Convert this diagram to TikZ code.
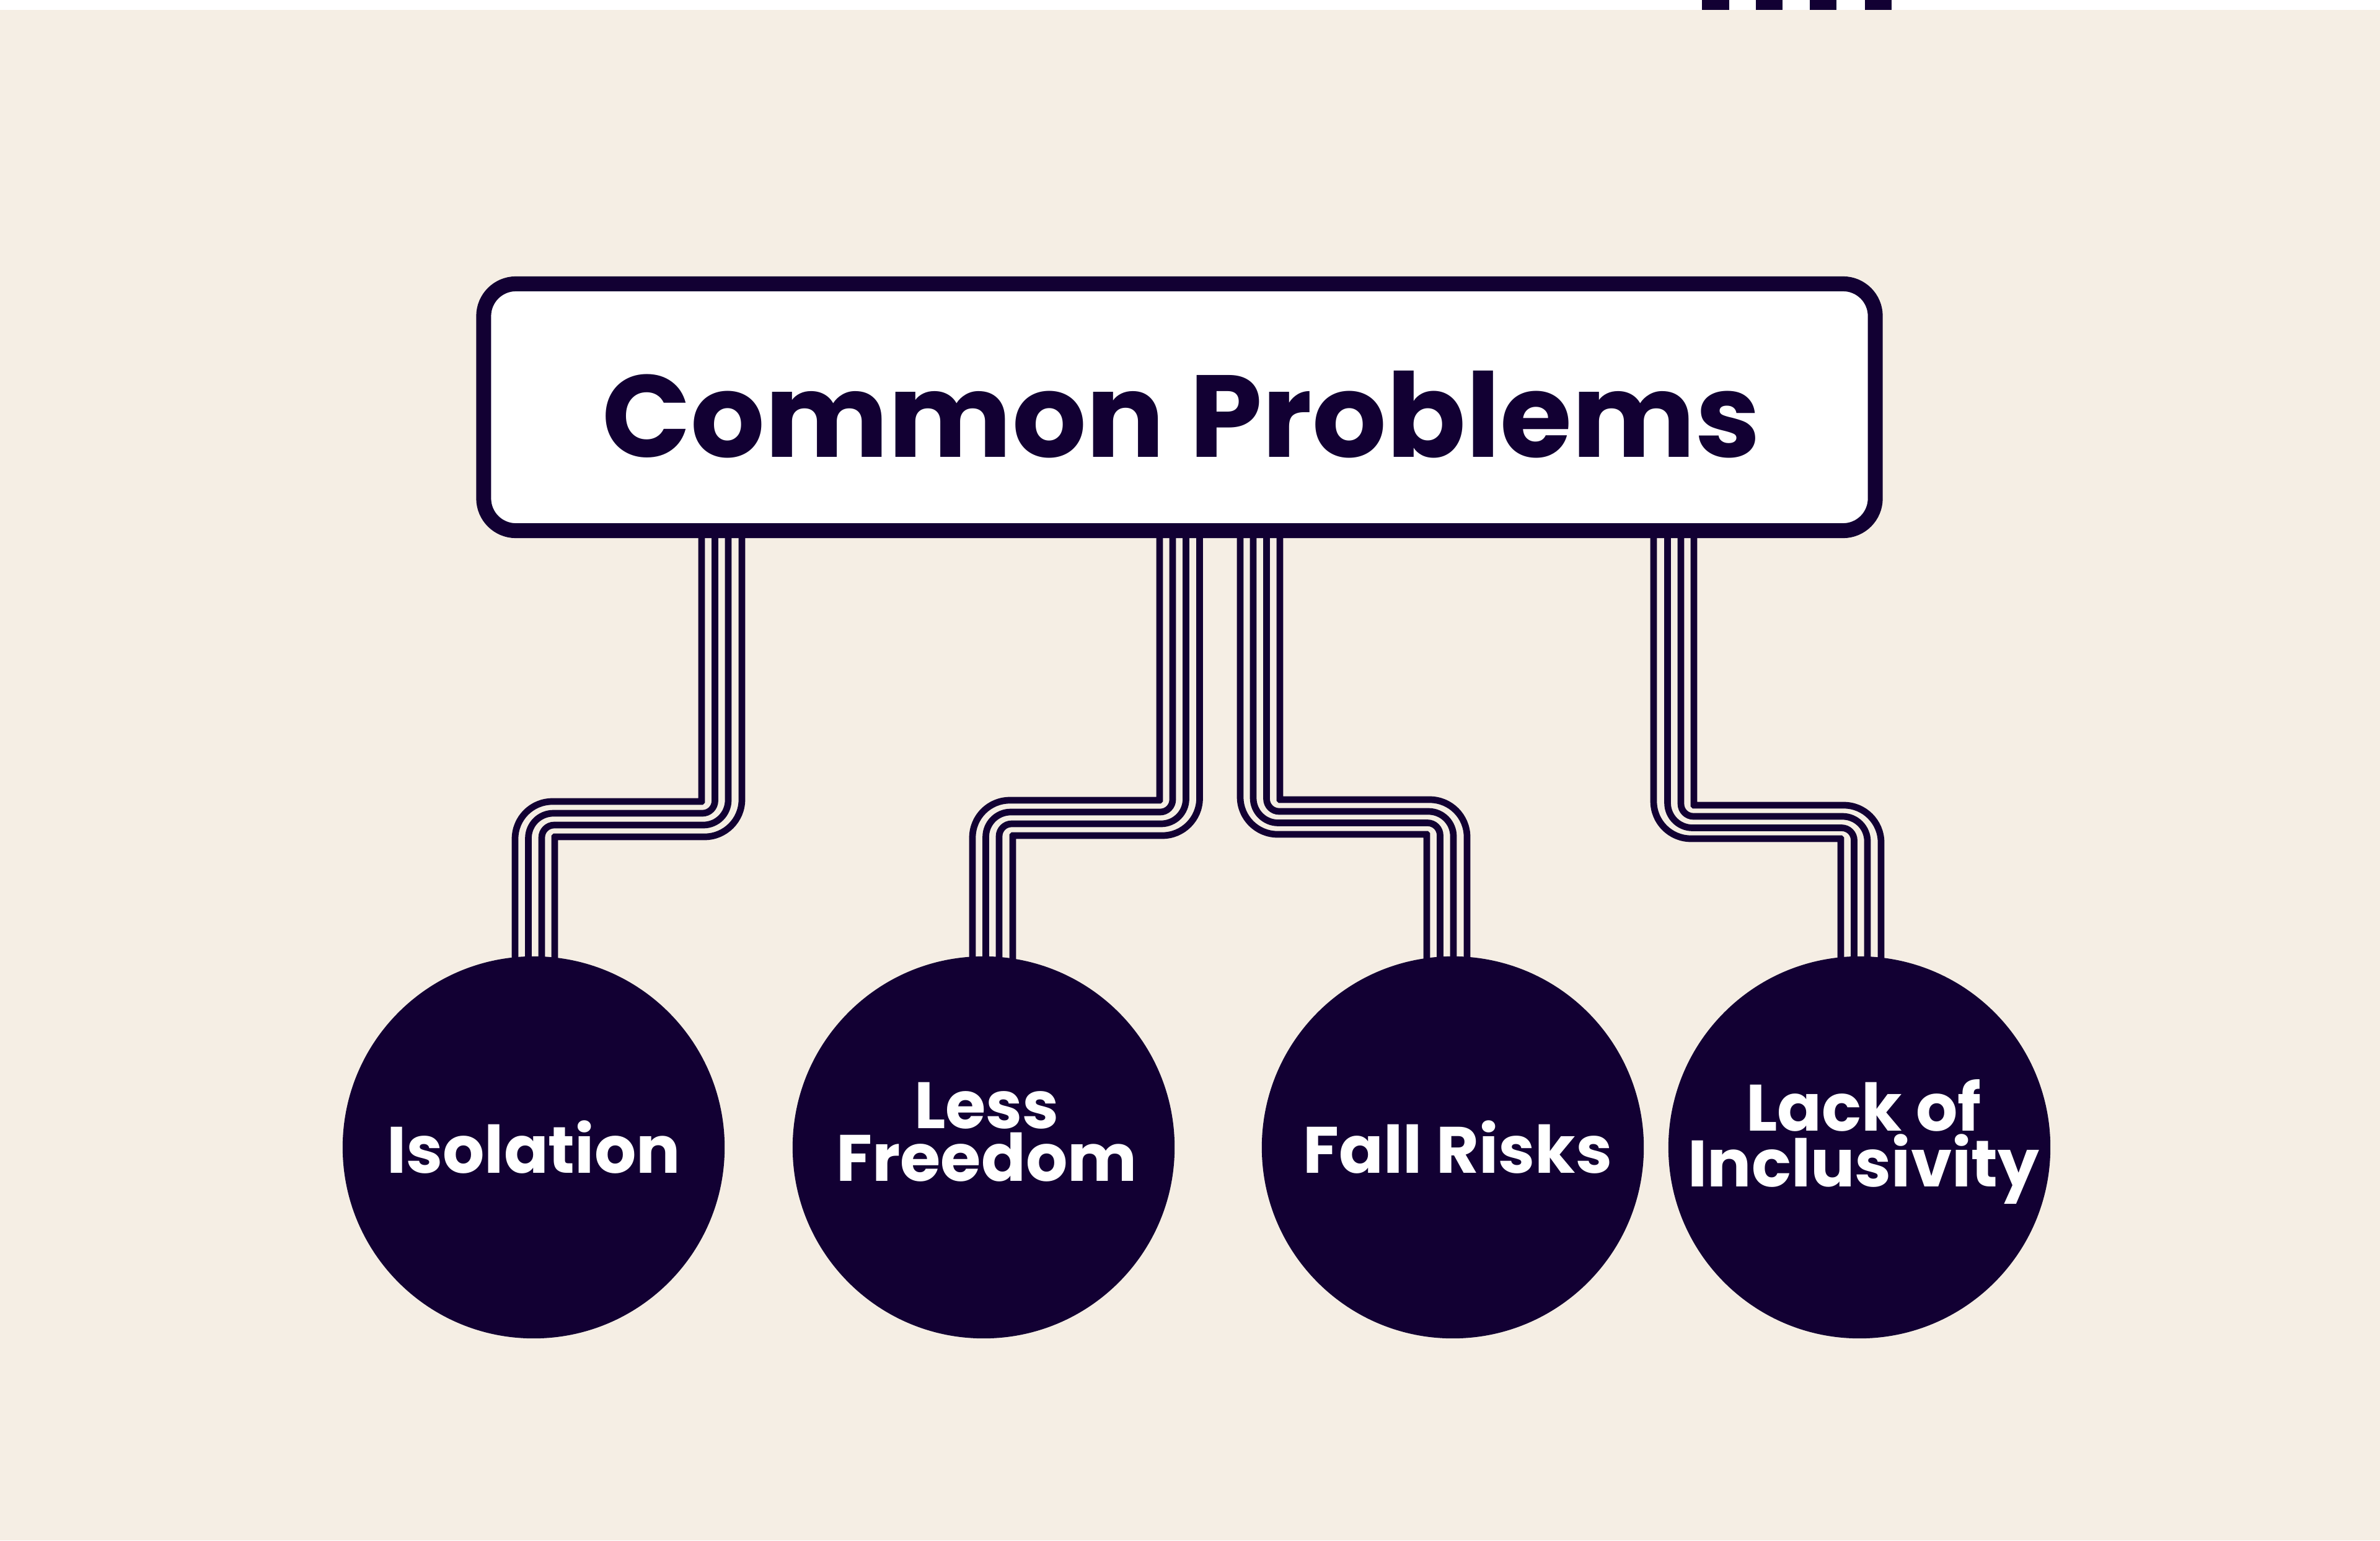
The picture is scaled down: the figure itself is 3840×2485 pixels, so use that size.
\documentclass[tikz,border=0pt]{standalone}
\usepackage{fontspec}
\setmainfont{Poppins}
\usetikzlibrary{calc}
\definecolor{navy}{HTML}{120033}
\definecolor{beige}{HTML}{F5EEE4}
\pgfdeclarelayer{back}
\pgfdeclarelayer{wires}
\pgfsetlayers{back,wires,main}
\tikzset{
  wire/.style={draw=navy, line width=0.107cm},
  titlebox/.style={draw=navy, fill=white, line width=0.24cm, rounded corners=0.52cm,
    minimum width=22.44cm, minimum height=3.98cm, inner sep=0pt, outer sep=0pt},
  bubble/.style={circle, fill=navy, minimum size=6.16cm, inner sep=0pt, outer sep=0pt},
  bubbletext/.style={text=white, align=center,
    font=\fontsize{30.1pt}{24.2pt}\selectfont\bfseries, inner sep=0pt},
  titletext/.style={text=navy, font=\fontsize{53.5pt}{60pt}\selectfont\bfseries,
    inner sep=0pt, anchor=base},
}
% #1 from node, #2 to node, #3 top x, #4 horizontal y, #5 bottom x,
% #6 / #7 corner radius multipliers (top / bottom corner)
\newcommand\wireline[7]{%
  \pgfmathsetmacro\wxm{(#3+#5)/2}%
  \draw[wire, rounded corners=#6*0.2cm+0.05pt] (#3,0 |- #1.center) -- (#3,#4) -- (\wxm,#4)
    [rounded corners=#7*0.2cm+0.05pt] -- (#5,#4) -- (#5,0 |- #2.center);
}
\begin{document}
\begin{tikzpicture}[x=0.01cm, y=-0.01cm]
\useasboundingbox (0,0) rectangle (3840,2485);
\begin{pgfonlayer}{back}
  \fill[white] (0,0) rectangle (3840,16);
  \fill[beige] (0,16) rectangle (3840,2485);
  \fill[navy] (2746,0) rectangle (2790,16);
  \fill[navy] (2833,0) rectangle (2876,16);
  \fill[navy] (2920,0) rectangle (2963,16);
  \fill[navy] (3009,0) rectangle (3052,16);
\end{pgfonlayer}

\node[titlebox] (box) at (1903,657) {};
\node[titletext] (title) at (1906,737) {Common Problems};

\node[bubble] (c1) at (861,1851) {};
\node[bubble] (c2) at (1587,1851) {};
\node[bubble] (c3) at (2344,1851) {};
\node[bubble] (c4) at (3000,1851) {};

\node[bubbletext] (t1) at (861,1851) {Isolation};
\node[bubbletext] (t2) at (1592,1826) {Less\\Freedom};
\node[bubbletext] (t3) at (2352,1851) {Fall Risks};
\node[bubbletext] (t4) at (3007,1842) {Lack of\\Inclusivity};

\begin{pgfonlayer}{wires}
  % to Isolation
  \wireline{box}{c1}{1132}{1293}{831}{0}{3}
  \wireline{box}{c1}{1153.5}{1312}{852.5}{1}{2}
  \wireline{box}{c1}{1175}{1331}{874}{2}{1}
  \wireline{box}{c1}{1197}{1350}{895}{3}{0}
  % to Less Freedom
  \wireline{box}{c2}{1871}{1291}{1569}{0}{3}
  \wireline{box}{c2}{1892}{1310}{1590.5}{1}{2}
  \wireline{box}{c2}{1913.5}{1329}{1612}{2}{1}
  \wireline{box}{c2}{1935.5}{1348}{1634}{3}{0}
  % to Fall Risks
  \wireline{box}{c3}{2065}{1290}{2367}{0}{3}
  \wireline{box}{c3}{2043.5}{1309}{2345}{1}{2}
  \wireline{box}{c3}{2022}{1327.5}{2323.5}{2}{1}
  \wireline{box}{c3}{2001}{1346}{2302}{3}{0}
  % to Lack of Inclusivity
  \wireline{box}{c4}{2733}{1299}{3035}{0}{3}
  \wireline{box}{c4}{2712}{1317}{3013}{1}{2}
  \wireline{box}{c4}{2690.5}{1335.5}{2991.5}{2}{1}
  \wireline{box}{c4}{2668}{1353}{2970}{3}{0}
\end{pgfonlayer}
\end{tikzpicture}
\end{document}
